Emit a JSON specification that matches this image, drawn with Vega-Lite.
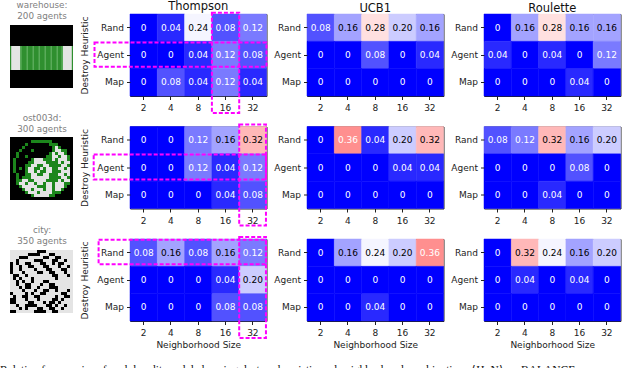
{"$schema":"https://vega.github.io/schema/vega-lite/v6.json","padding":{"left":0,"top":0,"right":5,"bottom":5},"bounds":"flush","columns":4,"align":"each","spacing":{"column":40,"row":30.5},
"config":{"font":"DejaVu Sans","view":{"stroke":"#222222","strokeWidth":1},"axis":{"grid":false,"labelFontSize":9,"titleFontSize":9,"labelColor":"#222222","titleColor":"#222222","domain":false,"tickColor":"#222222","tickSize":3.5,"labelPadding":3,"titleFontWeight":"normal","labelFlush":false},"axisX":{"labelPadding":4,"titlePadding":3},"title":{"fontSize":11.5,"fontWeight":"normal","color":"#111111"}},
"title":{"text":"Relative frequencies of each bandit model choosing destroy heuristic and neighborhood combinations ⟨H, N⟩ on BALANCE","orient":"bottom","anchor":"start","font":"Liberation Serif","fontSize":11.5,"color":"#111111","fontWeight":"normal","offset":15,"dx":-10},
"datasets":{
"heat":[
{"g":"warehouse","m":"Thompson","r":"Rand","n":2,"v":0,"l":"0"},{"g":"warehouse","m":"Thompson","r":"Rand","n":4,"v":0.04,"l":"0.04"},{"g":"warehouse","m":"Thompson","r":"Rand","n":8,"v":0.24,"l":"0.24"},{"g":"warehouse","m":"Thompson","r":"Rand","n":16,"v":0.08,"l":"0.08"},{"g":"warehouse","m":"Thompson","r":"Rand","n":32,"v":0.12,"l":"0.12"},
{"g":"warehouse","m":"Thompson","r":"Agent","n":2,"v":0,"l":"0"},{"g":"warehouse","m":"Thompson","r":"Agent","n":4,"v":0,"l":"0"},{"g":"warehouse","m":"Thompson","r":"Agent","n":8,"v":0.04,"l":"0.04"},{"g":"warehouse","m":"Thompson","r":"Agent","n":16,"v":0.12,"l":"0.12"},{"g":"warehouse","m":"Thompson","r":"Agent","n":32,"v":0.08,"l":"0.08"},
{"g":"warehouse","m":"Thompson","r":"Map","n":2,"v":0,"l":"0"},{"g":"warehouse","m":"Thompson","r":"Map","n":4,"v":0.08,"l":"0.08"},{"g":"warehouse","m":"Thompson","r":"Map","n":8,"v":0.04,"l":"0.04"},{"g":"warehouse","m":"Thompson","r":"Map","n":16,"v":0.12,"l":"0.12"},{"g":"warehouse","m":"Thompson","r":"Map","n":32,"v":0.04,"l":"0.04"},
{"g":"warehouse","m":"UCB1","r":"Rand","n":2,"v":0.08,"l":"0.08"},{"g":"warehouse","m":"UCB1","r":"Rand","n":4,"v":0.16,"l":"0.16"},{"g":"warehouse","m":"UCB1","r":"Rand","n":8,"v":0.28,"l":"0.28"},{"g":"warehouse","m":"UCB1","r":"Rand","n":16,"v":0.2,"l":"0.20"},{"g":"warehouse","m":"UCB1","r":"Rand","n":32,"v":0.16,"l":"0.16"},
{"g":"warehouse","m":"UCB1","r":"Agent","n":2,"v":0,"l":"0"},{"g":"warehouse","m":"UCB1","r":"Agent","n":4,"v":0,"l":"0"},{"g":"warehouse","m":"UCB1","r":"Agent","n":8,"v":0.08,"l":"0.08"},{"g":"warehouse","m":"UCB1","r":"Agent","n":16,"v":0,"l":"0"},{"g":"warehouse","m":"UCB1","r":"Agent","n":32,"v":0.04,"l":"0.04"},
{"g":"warehouse","m":"UCB1","r":"Map","n":2,"v":0,"l":"0"},{"g":"warehouse","m":"UCB1","r":"Map","n":4,"v":0,"l":"0"},{"g":"warehouse","m":"UCB1","r":"Map","n":8,"v":0,"l":"0"},{"g":"warehouse","m":"UCB1","r":"Map","n":16,"v":0,"l":"0"},{"g":"warehouse","m":"UCB1","r":"Map","n":32,"v":0,"l":"0"},
{"g":"warehouse","m":"Roulette","r":"Rand","n":2,"v":0,"l":"0"},{"g":"warehouse","m":"Roulette","r":"Rand","n":4,"v":0.16,"l":"0.16"},{"g":"warehouse","m":"Roulette","r":"Rand","n":8,"v":0.28,"l":"0.28"},{"g":"warehouse","m":"Roulette","r":"Rand","n":16,"v":0.16,"l":"0.16"},{"g":"warehouse","m":"Roulette","r":"Rand","n":32,"v":0.16,"l":"0.16"},
{"g":"warehouse","m":"Roulette","r":"Agent","n":2,"v":0.04,"l":"0.04"},{"g":"warehouse","m":"Roulette","r":"Agent","n":4,"v":0,"l":"0"},{"g":"warehouse","m":"Roulette","r":"Agent","n":8,"v":0.04,"l":"0.04"},{"g":"warehouse","m":"Roulette","r":"Agent","n":16,"v":0,"l":"0"},{"g":"warehouse","m":"Roulette","r":"Agent","n":32,"v":0.12,"l":"0.12"},
{"g":"warehouse","m":"Roulette","r":"Map","n":2,"v":0,"l":"0"},{"g":"warehouse","m":"Roulette","r":"Map","n":4,"v":0,"l":"0"},{"g":"warehouse","m":"Roulette","r":"Map","n":8,"v":0,"l":"0"},{"g":"warehouse","m":"Roulette","r":"Map","n":16,"v":0.04,"l":"0.04"},{"g":"warehouse","m":"Roulette","r":"Map","n":32,"v":0,"l":"0"},
{"g":"ost003d","m":"Thompson","r":"Rand","n":2,"v":0,"l":"0"},{"g":"ost003d","m":"Thompson","r":"Rand","n":4,"v":0,"l":"0"},{"g":"ost003d","m":"Thompson","r":"Rand","n":8,"v":0.12,"l":"0.12"},{"g":"ost003d","m":"Thompson","r":"Rand","n":16,"v":0.16,"l":"0.16"},{"g":"ost003d","m":"Thompson","r":"Rand","n":32,"v":0.32,"l":"0.32"},
{"g":"ost003d","m":"Thompson","r":"Agent","n":2,"v":0,"l":"0"},{"g":"ost003d","m":"Thompson","r":"Agent","n":4,"v":0,"l":"0"},{"g":"ost003d","m":"Thompson","r":"Agent","n":8,"v":0.12,"l":"0.12"},{"g":"ost003d","m":"Thompson","r":"Agent","n":16,"v":0.04,"l":"0.04"},{"g":"ost003d","m":"Thompson","r":"Agent","n":32,"v":0.12,"l":"0.12"},
{"g":"ost003d","m":"Thompson","r":"Map","n":2,"v":0,"l":"0"},{"g":"ost003d","m":"Thompson","r":"Map","n":4,"v":0,"l":"0"},{"g":"ost003d","m":"Thompson","r":"Map","n":8,"v":0,"l":"0"},{"g":"ost003d","m":"Thompson","r":"Map","n":16,"v":0.04,"l":"0.04"},{"g":"ost003d","m":"Thompson","r":"Map","n":32,"v":0.08,"l":"0.08"},
{"g":"ost003d","m":"UCB1","r":"Rand","n":2,"v":0,"l":"0"},{"g":"ost003d","m":"UCB1","r":"Rand","n":4,"v":0.36,"l":"0.36"},{"g":"ost003d","m":"UCB1","r":"Rand","n":8,"v":0.04,"l":"0.04"},{"g":"ost003d","m":"UCB1","r":"Rand","n":16,"v":0.2,"l":"0.20"},{"g":"ost003d","m":"UCB1","r":"Rand","n":32,"v":0.32,"l":"0.32"},
{"g":"ost003d","m":"UCB1","r":"Agent","n":2,"v":0,"l":"0"},{"g":"ost003d","m":"UCB1","r":"Agent","n":4,"v":0,"l":"0"},{"g":"ost003d","m":"UCB1","r":"Agent","n":8,"v":0,"l":"0"},{"g":"ost003d","m":"UCB1","r":"Agent","n":16,"v":0.04,"l":"0.04"},{"g":"ost003d","m":"UCB1","r":"Agent","n":32,"v":0.04,"l":"0.04"},
{"g":"ost003d","m":"UCB1","r":"Map","n":2,"v":0,"l":"0"},{"g":"ost003d","m":"UCB1","r":"Map","n":4,"v":0,"l":"0"},{"g":"ost003d","m":"UCB1","r":"Map","n":8,"v":0,"l":"0"},{"g":"ost003d","m":"UCB1","r":"Map","n":16,"v":0,"l":"0"},{"g":"ost003d","m":"UCB1","r":"Map","n":32,"v":0,"l":"0"},
{"g":"ost003d","m":"Roulette","r":"Rand","n":2,"v":0.08,"l":"0.08"},{"g":"ost003d","m":"Roulette","r":"Rand","n":4,"v":0.12,"l":"0.12"},{"g":"ost003d","m":"Roulette","r":"Rand","n":8,"v":0.32,"l":"0.32"},{"g":"ost003d","m":"Roulette","r":"Rand","n":16,"v":0.16,"l":"0.16"},{"g":"ost003d","m":"Roulette","r":"Rand","n":32,"v":0.2,"l":"0.20"},
{"g":"ost003d","m":"Roulette","r":"Agent","n":2,"v":0,"l":"0"},{"g":"ost003d","m":"Roulette","r":"Agent","n":4,"v":0,"l":"0"},{"g":"ost003d","m":"Roulette","r":"Agent","n":8,"v":0,"l":"0"},{"g":"ost003d","m":"Roulette","r":"Agent","n":16,"v":0.08,"l":"0.08"},{"g":"ost003d","m":"Roulette","r":"Agent","n":32,"v":0,"l":"0"},
{"g":"ost003d","m":"Roulette","r":"Map","n":2,"v":0,"l":"0"},{"g":"ost003d","m":"Roulette","r":"Map","n":4,"v":0,"l":"0"},{"g":"ost003d","m":"Roulette","r":"Map","n":8,"v":0.04,"l":"0.04"},{"g":"ost003d","m":"Roulette","r":"Map","n":16,"v":0,"l":"0"},{"g":"ost003d","m":"Roulette","r":"Map","n":32,"v":0,"l":"0"},
{"g":"city","m":"Thompson","r":"Rand","n":2,"v":0.08,"l":"0.08"},{"g":"city","m":"Thompson","r":"Rand","n":4,"v":0.16,"l":"0.16"},{"g":"city","m":"Thompson","r":"Rand","n":8,"v":0.08,"l":"0.08"},{"g":"city","m":"Thompson","r":"Rand","n":16,"v":0.16,"l":"0.16"},{"g":"city","m":"Thompson","r":"Rand","n":32,"v":0.12,"l":"0.12"},
{"g":"city","m":"Thompson","r":"Agent","n":2,"v":0,"l":"0"},{"g":"city","m":"Thompson","r":"Agent","n":4,"v":0,"l":"0"},{"g":"city","m":"Thompson","r":"Agent","n":8,"v":0,"l":"0"},{"g":"city","m":"Thompson","r":"Agent","n":16,"v":0.04,"l":"0.04"},{"g":"city","m":"Thompson","r":"Agent","n":32,"v":0.2,"l":"0.20"},
{"g":"city","m":"Thompson","r":"Map","n":2,"v":0,"l":"0"},{"g":"city","m":"Thompson","r":"Map","n":4,"v":0,"l":"0"},{"g":"city","m":"Thompson","r":"Map","n":8,"v":0,"l":"0"},{"g":"city","m":"Thompson","r":"Map","n":16,"v":0.08,"l":"0.08"},{"g":"city","m":"Thompson","r":"Map","n":32,"v":0.08,"l":"0.08"},
{"g":"city","m":"UCB1","r":"Rand","n":2,"v":0,"l":"0"},{"g":"city","m":"UCB1","r":"Rand","n":4,"v":0.16,"l":"0.16"},{"g":"city","m":"UCB1","r":"Rand","n":8,"v":0.24,"l":"0.24"},{"g":"city","m":"UCB1","r":"Rand","n":16,"v":0.2,"l":"0.20"},{"g":"city","m":"UCB1","r":"Rand","n":32,"v":0.36,"l":"0.36"},
{"g":"city","m":"UCB1","r":"Agent","n":2,"v":0,"l":"0"},{"g":"city","m":"UCB1","r":"Agent","n":4,"v":0,"l":"0"},{"g":"city","m":"UCB1","r":"Agent","n":8,"v":0,"l":"0"},{"g":"city","m":"UCB1","r":"Agent","n":16,"v":0,"l":"0"},{"g":"city","m":"UCB1","r":"Agent","n":32,"v":0,"l":"0"},
{"g":"city","m":"UCB1","r":"Map","n":2,"v":0,"l":"0"},{"g":"city","m":"UCB1","r":"Map","n":4,"v":0,"l":"0"},{"g":"city","m":"UCB1","r":"Map","n":8,"v":0.04,"l":"0.04"},{"g":"city","m":"UCB1","r":"Map","n":16,"v":0,"l":"0"},{"g":"city","m":"UCB1","r":"Map","n":32,"v":0,"l":"0"},
{"g":"city","m":"Roulette","r":"Rand","n":2,"v":0,"l":"0"},{"g":"city","m":"Roulette","r":"Rand","n":4,"v":0.32,"l":"0.32"},{"g":"city","m":"Roulette","r":"Rand","n":8,"v":0.24,"l":"0.24"},{"g":"city","m":"Roulette","r":"Rand","n":16,"v":0.16,"l":"0.16"},{"g":"city","m":"Roulette","r":"Rand","n":32,"v":0.2,"l":"0.20"},
{"g":"city","m":"Roulette","r":"Agent","n":2,"v":0,"l":"0"},{"g":"city","m":"Roulette","r":"Agent","n":4,"v":0.04,"l":"0.04"},{"g":"city","m":"Roulette","r":"Agent","n":8,"v":0,"l":"0"},{"g":"city","m":"Roulette","r":"Agent","n":16,"v":0.04,"l":"0.04"},{"g":"city","m":"Roulette","r":"Agent","n":32,"v":0,"l":"0"},
{"g":"city","m":"Roulette","r":"Map","n":2,"v":0,"l":"0"},{"g":"city","m":"Roulette","r":"Map","n":4,"v":0,"l":"0"},{"g":"city","m":"Roulette","r":"Map","n":8,"v":0,"l":"0"},{"g":"city","m":"Roulette","r":"Map","n":16,"v":0,"l":"0"},{"g":"city","m":"Roulette","r":"Map","n":32,"v":0,"l":"0"}
],
"marks":[
{"g":"warehouse","x0":3,"x1":4,"y0":-0.05,"y1":3.62},{"g":"warehouse","x0":-1.3,"x1":5,"y0":1.04,"y1":1.93},
{"g":"ost003d","x0":4,"x1":4.98,"y0":-0.07,"y1":3.62},{"g":"ost003d","x0":-1.33,"x1":4.98,"y0":1.02,"y1":1.94},
{"g":"city","x0":4,"x1":4.98,"y0":-0.07,"y1":3.62},{"g":"city","x0":-1.15,"x1":4.98,"y0":0.03,"y1":0.92}
],
"thumbs":[
{"g":"warehouse","r":0,"a":0,"b":21,"k":"k"},{"g":"warehouse","r":1,"a":0,"b":21,"k":"k"},{"g":"warehouse","r":2,"a":0,"b":21,"k":"k"},{"g":"warehouse","r":3,"a":0,"b":21,"k":"k"},{"g":"warehouse","r":4,"a":0,"b":21,"k":"k"},{"g":"warehouse","r":5,"a":0,"b":21,"k":"k"},{"g":"warehouse","r":6,"a":0,"b":21,"k":"k"},
{"g":"warehouse","r":15,"a":0,"b":21,"k":"k"},{"g":"warehouse","r":16,"a":0,"b":21,"k":"k"},{"g":"warehouse","r":17,"a":0,"b":21,"k":"k"},{"g":"warehouse","r":18,"a":0,"b":21,"k":"k"},{"g":"warehouse","r":19,"a":0,"b":21,"k":"k"},{"g":"warehouse","r":20,"a":0,"b":21,"k":"k"},
{"g":"warehouse","r":7,"a":0,"b":21,"k":"g"},{"g":"warehouse","r":8,"a":0,"b":21,"k":"g"},{"g":"warehouse","r":9,"a":0,"b":21,"k":"g"},{"g":"warehouse","r":10,"a":0,"b":21,"k":"g"},{"g":"warehouse","r":11,"a":0,"b":21,"k":"g"},{"g":"warehouse","r":12,"a":0,"b":21,"k":"g"},{"g":"warehouse","r":13,"a":0,"b":21,"k":"g"},{"g":"warehouse","r":14,"a":0,"b":21,"k":"g"},
{"g":"warehouse","r":7,"a":0.4,"b":3.4,"k":"w"},{"g":"warehouse","r":8,"a":0.4,"b":3.4,"k":"w"},{"g":"warehouse","r":9,"a":0.4,"b":3.4,"k":"w"},{"g":"warehouse","r":10,"a":0.4,"b":3.4,"k":"w"},{"g":"warehouse","r":11,"a":0.4,"b":3.4,"k":"w"},{"g":"warehouse","r":12,"a":0.4,"b":3.4,"k":"w"},{"g":"warehouse","r":13,"a":0.4,"b":3.4,"k":"w"},{"g":"warehouse","r":14,"a":0.4,"b":3.4,"k":"w"},
{"g":"warehouse","r":7,"a":17.6,"b":20.6,"k":"w"},{"g":"warehouse","r":8,"a":17.6,"b":20.6,"k":"w"},{"g":"warehouse","r":9,"a":17.6,"b":20.6,"k":"w"},{"g":"warehouse","r":10,"a":17.6,"b":20.6,"k":"w"},{"g":"warehouse","r":11,"a":17.6,"b":20.6,"k":"w"},{"g":"warehouse","r":12,"a":17.6,"b":20.6,"k":"w"},{"g":"warehouse","r":13,"a":17.6,"b":20.6,"k":"w"},{"g":"warehouse","r":14,"a":17.6,"b":20.6,"k":"w"},
{"g":"warehouse","r":7,"a":3.4,"b":3.9,"k":"l"},{"g":"warehouse","r":8,"a":3.4,"b":3.9,"k":"l"},{"g":"warehouse","r":9,"a":3.4,"b":3.9,"k":"l"},{"g":"warehouse","r":10,"a":3.4,"b":3.9,"k":"l"},{"g":"warehouse","r":11,"a":3.4,"b":3.9,"k":"l"},{"g":"warehouse","r":12,"a":3.4,"b":3.9,"k":"l"},{"g":"warehouse","r":13,"a":3.4,"b":3.9,"k":"l"},{"g":"warehouse","r":14,"a":3.4,"b":3.9,"k":"l"},
{"g":"warehouse","r":7,"a":5.5,"b":6,"k":"l"},{"g":"warehouse","r":8,"a":5.5,"b":6,"k":"l"},{"g":"warehouse","r":9,"a":5.5,"b":6,"k":"l"},{"g":"warehouse","r":10,"a":5.5,"b":6,"k":"l"},{"g":"warehouse","r":11,"a":5.5,"b":6,"k":"l"},{"g":"warehouse","r":12,"a":5.5,"b":6,"k":"l"},{"g":"warehouse","r":13,"a":5.5,"b":6,"k":"l"},{"g":"warehouse","r":14,"a":5.5,"b":6,"k":"l"},
{"g":"warehouse","r":7,"a":7.5,"b":8,"k":"l"},{"g":"warehouse","r":8,"a":7.5,"b":8,"k":"l"},{"g":"warehouse","r":9,"a":7.5,"b":8,"k":"l"},{"g":"warehouse","r":10,"a":7.5,"b":8,"k":"l"},{"g":"warehouse","r":11,"a":7.5,"b":8,"k":"l"},{"g":"warehouse","r":12,"a":7.5,"b":8,"k":"l"},{"g":"warehouse","r":13,"a":7.5,"b":8,"k":"l"},{"g":"warehouse","r":14,"a":7.5,"b":8,"k":"l"},
{"g":"warehouse","r":7,"a":9.5,"b":10,"k":"l"},{"g":"warehouse","r":8,"a":9.5,"b":10,"k":"l"},{"g":"warehouse","r":9,"a":9.5,"b":10,"k":"l"},{"g":"warehouse","r":10,"a":9.5,"b":10,"k":"l"},{"g":"warehouse","r":11,"a":9.5,"b":10,"k":"l"},{"g":"warehouse","r":12,"a":9.5,"b":10,"k":"l"},{"g":"warehouse","r":13,"a":9.5,"b":10,"k":"l"},{"g":"warehouse","r":14,"a":9.5,"b":10,"k":"l"},
{"g":"warehouse","r":7,"a":11.5,"b":12,"k":"l"},{"g":"warehouse","r":8,"a":11.5,"b":12,"k":"l"},{"g":"warehouse","r":9,"a":11.5,"b":12,"k":"l"},{"g":"warehouse","r":10,"a":11.5,"b":12,"k":"l"},{"g":"warehouse","r":11,"a":11.5,"b":12,"k":"l"},{"g":"warehouse","r":12,"a":11.5,"b":12,"k":"l"},{"g":"warehouse","r":13,"a":11.5,"b":12,"k":"l"},{"g":"warehouse","r":14,"a":11.5,"b":12,"k":"l"},
{"g":"warehouse","r":7,"a":13.5,"b":14,"k":"l"},{"g":"warehouse","r":8,"a":13.5,"b":14,"k":"l"},{"g":"warehouse","r":9,"a":13.5,"b":14,"k":"l"},{"g":"warehouse","r":10,"a":13.5,"b":14,"k":"l"},{"g":"warehouse","r":11,"a":13.5,"b":14,"k":"l"},{"g":"warehouse","r":12,"a":13.5,"b":14,"k":"l"},{"g":"warehouse","r":13,"a":13.5,"b":14,"k":"l"},{"g":"warehouse","r":14,"a":13.5,"b":14,"k":"l"},
{"g":"warehouse","r":7,"a":15.5,"b":16,"k":"l"},{"g":"warehouse","r":8,"a":15.5,"b":16,"k":"l"},{"g":"warehouse","r":9,"a":15.5,"b":16,"k":"l"},{"g":"warehouse","r":10,"a":15.5,"b":16,"k":"l"},{"g":"warehouse","r":11,"a":15.5,"b":16,"k":"l"},{"g":"warehouse","r":12,"a":15.5,"b":16,"k":"l"},{"g":"warehouse","r":13,"a":15.5,"b":16,"k":"l"},{"g":"warehouse","r":14,"a":15.5,"b":16,"k":"l"},
{"g":"warehouse","r":7,"a":17.1,"b":17.6,"k":"l"},{"g":"warehouse","r":8,"a":17.1,"b":17.6,"k":"l"},{"g":"warehouse","r":9,"a":17.1,"b":17.6,"k":"l"},{"g":"warehouse","r":10,"a":17.1,"b":17.6,"k":"l"},{"g":"warehouse","r":11,"a":17.1,"b":17.6,"k":"l"},{"g":"warehouse","r":12,"a":17.1,"b":17.6,"k":"l"},{"g":"warehouse","r":13,"a":17.1,"b":17.6,"k":"l"},{"g":"warehouse","r":14,"a":17.1,"b":17.6,"k":"l"},
{"g":"ost003d","r":0,"a":0,"b":21,"k":"k"},{"g":"ost003d","r":1,"a":0,"b":21,"k":"k"},{"g":"ost003d","r":2,"a":0,"b":21,"k":"k"},{"g":"ost003d","r":3,"a":0,"b":21,"k":"k"},{"g":"ost003d","r":4,"a":0,"b":21,"k":"k"},{"g":"ost003d","r":5,"a":0,"b":21,"k":"k"},{"g":"ost003d","r":6,"a":0,"b":21,"k":"k"},{"g":"ost003d","r":7,"a":0,"b":21,"k":"k"},{"g":"ost003d","r":8,"a":0,"b":21,"k":"k"},{"g":"ost003d","r":9,"a":0,"b":21,"k":"k"},{"g":"ost003d","r":10,"a":0,"b":21,"k":"k"},{"g":"ost003d","r":11,"a":0,"b":21,"k":"k"},{"g":"ost003d","r":12,"a":0,"b":21,"k":"k"},{"g":"ost003d","r":13,"a":0,"b":21,"k":"k"},{"g":"ost003d","r":14,"a":0,"b":21,"k":"k"},{"g":"ost003d","r":15,"a":0,"b":21,"k":"k"},{"g":"ost003d","r":16,"a":0,"b":21,"k":"k"},{"g":"ost003d","r":17,"a":0,"b":21,"k":"k"},{"g":"ost003d","r":18,"a":0,"b":21,"k":"k"},{"g":"ost003d","r":19,"a":0,"b":21,"k":"k"},{"g":"ost003d","r":20,"a":0,"b":21,"k":"k"},
{"g":"ost003d","r":1,"a":7,"b":14,"k":"g"},{"g":"ost003d","r":2,"a":5,"b":6,"k":"g"},{"g":"ost003d","r":2,"a":13,"b":16,"k":"g"},{"g":"ost003d","r":3,"a":4,"b":5,"k":"g"},{"g":"ost003d","r":3,"a":14,"b":17,"k":"g"},{"g":"ost003d","r":4,"a":3,"b":4,"k":"g"},{"g":"ost003d","r":4,"a":7,"b":8,"k":"g"},{"g":"ost003d","r":4,"a":14,"b":19,"k":"g"},{"g":"ost003d","r":5,"a":2,"b":3,"k":"g"},{"g":"ost003d","r":5,"a":13,"b":19,"k":"g"},{"g":"ost003d","r":6,"a":2,"b":3,"k":"g"},{"g":"ost003d","r":6,"a":5,"b":6,"k":"g"},{"g":"ost003d","r":6,"a":12,"b":20,"k":"g"},{"g":"ost003d","r":7,"a":1,"b":2,"k":"g"},{"g":"ost003d","r":7,"a":7,"b":20,"k":"g"},{"g":"ost003d","r":8,"a":1,"b":2,"k":"g"},{"g":"ost003d","r":8,"a":6,"b":20,"k":"g"},{"g":"ost003d","r":9,"a":1,"b":2,"k":"g"},{"g":"ost003d","r":9,"a":5,"b":20,"k":"g"},{"g":"ost003d","r":10,"a":1,"b":2,"k":"g"},{"g":"ost003d","r":10,"a":3,"b":4,"k":"g"},{"g":"ost003d","r":10,"a":5,"b":20,"k":"g"},{"g":"ost003d","r":11,"a":1,"b":2,"k":"g"},{"g":"ost003d","r":11,"a":5,"b":20,"k":"g"},{"g":"ost003d","r":12,"a":2,"b":3,"k":"g"},{"g":"ost003d","r":12,"a":5,"b":20,"k":"g"},{"g":"ost003d","r":13,"a":2,"b":3,"k":"g"},{"g":"ost003d","r":13,"a":4,"b":20,"k":"g"},{"g":"ost003d","r":14,"a":2,"b":20,"k":"g"},{"g":"ost003d","r":15,"a":2,"b":20,"k":"g"},{"g":"ost003d","r":16,"a":3,"b":19,"k":"g"},{"g":"ost003d","r":17,"a":4,"b":18,"k":"g"},{"g":"ost003d","r":18,"a":5,"b":17,"k":"g"},{"g":"ost003d","r":19,"a":7,"b":15,"k":"g"},
{"g":"ost003d","r":3,"a":15,"b":16,"k":"w"},{"g":"ost003d","r":4,"a":15,"b":17,"k":"w"},{"g":"ost003d","r":5,"a":14,"b":15,"k":"w"},{"g":"ost003d","r":5,"a":16,"b":18,"k":"w"},{"g":"ost003d","r":6,"a":14,"b":16,"k":"w"},{"g":"ost003d","r":6,"a":17,"b":19,"k":"w"},{"g":"ost003d","r":7,"a":8,"b":11,"k":"w"},{"g":"ost003d","r":7,"a":14,"b":15,"k":"w"},{"g":"ost003d","r":7,"a":16,"b":19,"k":"w"},{"g":"ost003d","r":8,"a":8,"b":12,"k":"w"},{"g":"ost003d","r":8,"a":16,"b":17,"k":"w"},{"g":"ost003d","r":8,"a":18,"b":20,"k":"w"},{"g":"ost003d","r":9,"a":7,"b":9,"k":"w"},{"g":"ost003d","r":9,"a":11,"b":13,"k":"w"},{"g":"ost003d","r":9,"a":17,"b":19,"k":"w"},{"g":"ost003d","r":10,"a":6,"b":8,"k":"w"},{"g":"ost003d","r":10,"a":10,"b":11,"k":"w"},{"g":"ost003d","r":10,"a":12,"b":14,"k":"w"},{"g":"ost003d","r":10,"a":16,"b":18,"k":"w"},{"g":"ost003d","r":10,"a":19,"b":20,"k":"w"},{"g":"ost003d","r":11,"a":6,"b":8,"k":"w"},{"g":"ost003d","r":11,"a":9,"b":10,"k":"w"},{"g":"ost003d","r":11,"a":12,"b":14,"k":"w"},{"g":"ost003d","r":11,"a":17,"b":20,"k":"w"},{"g":"ost003d","r":12,"a":7,"b":9,"k":"w"},{"g":"ost003d","r":12,"a":11,"b":13,"k":"w"},{"g":"ost003d","r":12,"a":16,"b":18,"k":"w"},{"g":"ost003d","r":12,"a":19,"b":20,"k":"w"},{"g":"ost003d","r":13,"a":7,"b":13,"k":"w"},{"g":"ost003d","r":13,"a":17,"b":19,"k":"w"},{"g":"ost003d","r":14,"a":4,"b":6,"k":"w"},{"g":"ost003d","r":14,"a":8,"b":12,"k":"w"},{"g":"ost003d","r":14,"a":16,"b":17,"k":"w"},{"g":"ost003d","r":14,"a":18,"b":20,"k":"w"},{"g":"ost003d","r":15,"a":3,"b":5,"k":"w"},{"g":"ost003d","r":15,"a":6,"b":8,"k":"w"},{"g":"ost003d","r":15,"a":9,"b":11,"k":"w"},{"g":"ost003d","r":15,"a":12,"b":14,"k":"w"},{"g":"ost003d","r":15,"a":15,"b":18,"k":"w"},{"g":"ost003d","r":16,"a":4,"b":9,"k":"w"},{"g":"ost003d","r":16,"a":12,"b":14,"k":"w"},{"g":"ost003d","r":16,"a":15,"b":18,"k":"w"},{"g":"ost003d","r":17,"a":5,"b":7,"k":"w"},{"g":"ost003d","r":17,"a":8,"b":11,"k":"w"},{"g":"ost003d","r":17,"a":12,"b":14,"k":"w"},{"g":"ost003d","r":17,"a":15,"b":17,"k":"w"},{"g":"ost003d","r":18,"a":6,"b":9,"k":"w"},{"g":"ost003d","r":18,"a":10,"b":14,"k":"w"},{"g":"ost003d","r":19,"a":8,"b":13,"k":"w"},
{"g":"city","r":0,"a":0,"b":21,"k":"w"},{"g":"city","r":1,"a":0,"b":21,"k":"w"},{"g":"city","r":2,"a":0,"b":21,"k":"w"},{"g":"city","r":3,"a":0,"b":21,"k":"w"},{"g":"city","r":4,"a":0,"b":21,"k":"w"},{"g":"city","r":5,"a":0,"b":21,"k":"w"},{"g":"city","r":6,"a":0,"b":21,"k":"w"},{"g":"city","r":7,"a":0,"b":21,"k":"w"},{"g":"city","r":8,"a":0,"b":21,"k":"w"},{"g":"city","r":9,"a":0,"b":21,"k":"w"},{"g":"city","r":10,"a":0,"b":21,"k":"w"},{"g":"city","r":11,"a":0,"b":21,"k":"w"},{"g":"city","r":12,"a":0,"b":21,"k":"w"},{"g":"city","r":13,"a":0,"b":21,"k":"w"},{"g":"city","r":14,"a":0,"b":21,"k":"w"},{"g":"city","r":15,"a":0,"b":21,"k":"w"},{"g":"city","r":16,"a":0,"b":21,"k":"w"},{"g":"city","r":17,"a":0,"b":21,"k":"w"},{"g":"city","r":18,"a":0,"b":21,"k":"w"},{"g":"city","r":19,"a":0,"b":21,"k":"w"},{"g":"city","r":20,"a":0,"b":21,"k":"w"},
{"g":"city","r":0,"a":9,"b":12,"k":"k"},{"g":"city","r":1,"a":6,"b":10,"k":"k"},{"g":"city","r":1,"a":13,"b":15,"k":"k"},{"g":"city","r":2,"a":3,"b":6,"k":"k"},{"g":"city","r":2,"a":11,"b":13,"k":"k"},{"g":"city","r":2,"a":15,"b":17,"k":"k"},{"g":"city","r":3,"a":2,"b":3,"k":"k"},{"g":"city","r":3,"a":8,"b":11,"k":"k"},{"g":"city","r":3,"a":14,"b":16,"k":"k"},{"g":"city","r":3,"a":18,"b":19,"k":"k"},{"g":"city","r":4,"a":0,"b":1,"k":"k"},{"g":"city","r":4,"a":2,"b":3,"k":"k"},{"g":"city","r":4,"a":5,"b":7,"k":"k"},{"g":"city","r":4,"a":10,"b":12,"k":"k"},{"g":"city","r":4,"a":14,"b":15,"k":"k"},{"g":"city","r":4,"a":16,"b":18,"k":"k"},{"g":"city","r":5,"a":0,"b":1,"k":"k"},{"g":"city","r":5,"a":3,"b":4,"k":"k"},{"g":"city","r":5,"a":6,"b":8,"k":"k"},{"g":"city","r":5,"a":11,"b":13,"k":"k"},{"g":"city","r":5,"a":16,"b":17,"k":"k"},{"g":"city","r":5,"a":19,"b":20,"k":"k"},{"g":"city","r":6,"a":0,"b":1,"k":"k"},{"g":"city","r":6,"a":3,"b":4,"k":"k"},{"g":"city","r":6,"a":8,"b":9,"k":"k"},{"g":"city","r":6,"a":12,"b":14,"k":"k"},{"g":"city","r":6,"a":17,"b":19,"k":"k"},{"g":"city","r":7,"a":0,"b":1,"k":"k"},{"g":"city","r":7,"a":4,"b":5,"k":"k"},{"g":"city","r":7,"a":9,"b":11,"k":"k"},{"g":"city","r":7,"a":13,"b":15,"k":"k"},{"g":"city","r":7,"a":18,"b":19,"k":"k"},{"g":"city","r":8,"a":1,"b":3,"k":"k"},{"g":"city","r":8,"a":5,"b":6,"k":"k"},{"g":"city","r":8,"a":14,"b":16,"k":"k"},{"g":"city","r":8,"a":19,"b":20,"k":"k"},{"g":"city","r":9,"a":1,"b":2,"k":"k"},{"g":"city","r":9,"a":3,"b":4,"k":"k"},{"g":"city","r":9,"a":7,"b":8,"k":"k"},{"g":"city","r":9,"a":15,"b":16,"k":"k"},{"g":"city","r":10,"a":2,"b":3,"k":"k"},{"g":"city","r":10,"a":4,"b":5,"k":"k"},{"g":"city","r":10,"a":7,"b":8,"k":"k"},{"g":"city","r":10,"a":11,"b":13,"k":"k"},{"g":"city","r":11,"a":2,"b":3,"k":"k"},{"g":"city","r":11,"a":5,"b":7,"k":"k"},{"g":"city","r":11,"a":10,"b":11,"k":"k"},{"g":"city","r":11,"a":13,"b":15,"k":"k"},{"g":"city","r":12,"a":3,"b":4,"k":"k"},{"g":"city","r":12,"a":5,"b":7,"k":"k"},{"g":"city","r":12,"a":9,"b":10,"k":"k"},{"g":"city","r":12,"a":13,"b":16,"k":"k"},{"g":"city","r":13,"a":4,"b":5,"k":"k"},{"g":"city","r":13,"a":8,"b":9,"k":"k"},{"g":"city","r":13,"a":11,"b":13,"k":"k"},{"g":"city","r":13,"a":15,"b":16,"k":"k"},{"g":"city","r":13,"a":19,"b":20,"k":"k"},{"g":"city","r":14,"a":0,"b":1,"k":"k"},{"g":"city","r":14,"a":5,"b":6,"k":"k"},{"g":"city","r":14,"a":7,"b":8,"k":"k"},{"g":"city","r":14,"a":10,"b":12,"k":"k"},{"g":"city","r":14,"a":17,"b":19,"k":"k"},{"g":"city","r":15,"a":1,"b":2,"k":"k"},{"g":"city","r":15,"a":4,"b":6,"k":"k"},{"g":"city","r":15,"a":8,"b":10,"k":"k"},{"g":"city","r":15,"a":15,"b":16,"k":"k"},{"g":"city","r":15,"a":18,"b":20,"k":"k"},{"g":"city","r":16,"a":0,"b":2,"k":"k"},{"g":"city","r":16,"a":5,"b":6,"k":"k"},{"g":"city","r":16,"a":9,"b":10,"k":"k"},{"g":"city","r":16,"a":14,"b":16,"k":"k"},{"g":"city","r":16,"a":17,"b":18,"k":"k"},{"g":"city","r":17,"a":0,"b":2,"k":"k"},{"g":"city","r":17,"a":6,"b":8,"k":"k"},{"g":"city","r":17,"a":11,"b":12,"k":"k"},{"g":"city","r":17,"a":13,"b":15,"k":"k"},{"g":"city","r":17,"a":16,"b":17,"k":"k"},{"g":"city","r":18,"a":2,"b":3,"k":"k"},{"g":"city","r":18,"a":5,"b":9,"k":"k"},{"g":"city","r":18,"a":12,"b":14,"k":"k"},{"g":"city","r":18,"a":15,"b":16,"k":"k"},{"g":"city","r":18,"a":18,"b":19,"k":"k"},{"g":"city","r":19,"a":3,"b":4,"k":"k"},{"g":"city","r":19,"a":5,"b":6,"k":"k"},{"g":"city","r":19,"a":9,"b":11,"k":"k"},{"g":"city","r":19,"a":13,"b":15,"k":"k"},{"g":"city","r":19,"a":17,"b":18,"k":"k"},{"g":"city","r":20,"a":0,"b":2,"k":"k"},{"g":"city","r":20,"a":8,"b":12,"k":"k"},{"g":"city","r":20,"a":14,"b":16,"k":"k"}
]},
"concat":[
{"width":80,"height":82,"view":{"stroke":null},"title":{"text":["warehouse:","200 agents"],"anchor":"start","align":"center","dx":32,"offset":-7,"fontSize":8.8,"color":"#808080","lineHeight":11,"frame":"group"},"data":{"name":"thumbs"},"transform":[{"filter":"datum.g=='warehouse'"}],"mark":{"type":"rect"},"encoding":{"x":{"field":"a","type":"quantitative","scale":{"domain":[0,21],"range":[0,63],"nice":false,"zero":false},"axis":null},"x2":{"field":"b"},"y":{"field":"r","type":"ordinal","sort":null,"scale":{"domain":[0,1,2,3,4,5,6,7,8,9,10,11,12,13,14,15,16,17,18,19,20],"range":[11,74],"padding":0},"axis":null},"color":{"field":"k","type":"nominal","legend":null,"scale":{"domain":["k","g","l","w"],"range":["#000000","#2f8f2f","#5aab5a","#e4e4e4"]}}}},
{"width":136.5,"height":82,"title":{"text":"Thompson","offset":-1},"resolve":{"scale":{"x":"independent","y":"independent"}},"layer":[{"data":{"name":"heat"},"transform":[{"filter":"datum.g=='warehouse'&&datum.m=='Thompson'"}],"layer":[{"mark":{"type":"rect","strokeWidth":0.5},"encoding":{"x":{"field":"n","type":"ordinal","sort":[2,4,8,16,32],"scale":{"padding":0},"title":null,"axis":{"labelAngle":0}},"y":{"field":"r","type":"nominal","sort":["Rand","Agent","Map"],"scale":{"padding":0},"axis":{"title":"Destroy Heuristic","titlePadding":7}},"color":{"field":"v","type":"quantitative","legend":null,"scale":{"domain":[0,0.25,0.5],"range":["#0000ff","#ffffff","#ff0000"],"interpolate":"rgb"}},"stroke":{"field":"v","type":"quantitative","legend":null,"scale":{"domain":[0,0.25,0.5],"range":["#0000ff","#ffffff","#ff0000"],"interpolate":"rgb"}}}},{"mark":{"type":"text","fontSize":9},"encoding":{"x":{"field":"n","type":"ordinal","sort":[2,4,8,16,32]},"y":{"field":"r","type":"nominal","sort":["Rand","Agent","Map"]},"text":{"field":"l"},"color":{"condition":{"test":"datum.v<0.14||datum.v>0.34","value":"white"},"value":"black"}}}]},{"data":{"name":"marks"},"transform":[{"filter":"datum.g=='warehouse'"}],"mark":{"type":"rect","fill":"transparent","stroke":"#ff00ff","strokeWidth":2,"strokeDash":[4,2],"clip":false},"encoding":{"x":{"field":"x0","type":"quantitative","scale":{"domain":[0,5],"nice":false,"zero":false},"axis":null},"x2":{"field":"x1"},"y":{"field":"y0","type":"quantitative","scale":{"domain":[0,3],"reverse":true,"nice":false,"zero":false},"axis":null},"y2":{"field":"y1"}}}]},
{"width":136.5,"height":82,"title":{"text":"UCB1","offset":-1},"data":{"name":"heat"},"transform":[{"filter":"datum.g=='warehouse'&&datum.m=='UCB1'"}],"layer":[{"mark":{"type":"rect","strokeWidth":0.5},"encoding":{"x":{"field":"n","type":"ordinal","sort":[2,4,8,16,32],"scale":{"padding":0},"title":null,"axis":{"labelAngle":0}},"y":{"field":"r","type":"nominal","sort":["Rand","Agent","Map"],"scale":{"padding":0},"title":null},"color":{"field":"v","type":"quantitative","legend":null,"scale":{"domain":[0,0.25,0.5],"range":["#0000ff","#ffffff","#ff0000"],"interpolate":"rgb"}},"stroke":{"field":"v","type":"quantitative","legend":null,"scale":{"domain":[0,0.25,0.5],"range":["#0000ff","#ffffff","#ff0000"],"interpolate":"rgb"}}}},{"mark":{"type":"text","fontSize":9},"encoding":{"x":{"field":"n","type":"ordinal","sort":[2,4,8,16,32]},"y":{"field":"r","type":"nominal","sort":["Rand","Agent","Map"]},"text":{"field":"l"},"color":{"condition":{"test":"datum.v<0.14||datum.v>0.34","value":"white"},"value":"black"}}}]},
{"width":136.5,"height":82,"title":{"text":"Roulette","offset":-1},"data":{"name":"heat"},"transform":[{"filter":"datum.g=='warehouse'&&datum.m=='Roulette'"}],"layer":[{"mark":{"type":"rect","strokeWidth":0.5},"encoding":{"x":{"field":"n","type":"ordinal","sort":[2,4,8,16,32],"scale":{"padding":0},"title":null,"axis":{"labelAngle":0}},"y":{"field":"r","type":"nominal","sort":["Rand","Agent","Map"],"scale":{"padding":0},"title":null},"color":{"field":"v","type":"quantitative","legend":null,"scale":{"domain":[0,0.25,0.5],"range":["#0000ff","#ffffff","#ff0000"],"interpolate":"rgb"}},"stroke":{"field":"v","type":"quantitative","legend":null,"scale":{"domain":[0,0.25,0.5],"range":["#0000ff","#ffffff","#ff0000"],"interpolate":"rgb"}}}},{"mark":{"type":"text","fontSize":9},"encoding":{"x":{"field":"n","type":"ordinal","sort":[2,4,8,16,32]},"y":{"field":"r","type":"nominal","sort":["Rand","Agent","Map"]},"text":{"field":"l"},"color":{"condition":{"test":"datum.v<0.14||datum.v>0.34","value":"white"},"value":"black"}}}]},
{"width":80,"height":82,"view":{"stroke":null},"title":{"text":["ost003d:","300 agents"],"anchor":"start","align":"center","dx":32,"offset":-7,"fontSize":8.8,"color":"#808080","lineHeight":11,"frame":"group"},"data":{"name":"thumbs"},"transform":[{"filter":"datum.g=='ost003d'"}],"mark":{"type":"rect"},"encoding":{"x":{"field":"a","type":"quantitative","scale":{"domain":[0,21],"range":[0,63],"nice":false,"zero":false},"axis":null},"x2":{"field":"b"},"y":{"field":"r","type":"ordinal","sort":null,"scale":{"domain":[0,1,2,3,4,5,6,7,8,9,10,11,12,13,14,15,16,17,18,19,20],"range":[10.5,73.5],"padding":0},"axis":null},"color":{"field":"k","type":"nominal","legend":null,"scale":{"domain":["k","g","l","w"],"range":["#000000","#1c861c","#5aab5a","#e4e4e4"]}}}},
{"width":136.5,"height":82,"resolve":{"scale":{"x":"independent","y":"independent"}},"layer":[{"data":{"name":"heat"},"transform":[{"filter":"datum.g=='ost003d'&&datum.m=='Thompson'"}],"layer":[{"mark":{"type":"rect","strokeWidth":0.5},"encoding":{"x":{"field":"n","type":"ordinal","sort":[2,4,8,16,32],"scale":{"padding":0},"title":null,"axis":{"labelAngle":0}},"y":{"field":"r","type":"nominal","sort":["Rand","Agent","Map"],"scale":{"padding":0},"axis":{"title":"Destroy Heuristic","titlePadding":7}},"color":{"field":"v","type":"quantitative","legend":null,"scale":{"domain":[0,0.25,0.5],"range":["#0000ff","#ffffff","#ff0000"],"interpolate":"rgb"}},"stroke":{"field":"v","type":"quantitative","legend":null,"scale":{"domain":[0,0.25,0.5],"range":["#0000ff","#ffffff","#ff0000"],"interpolate":"rgb"}}}},{"mark":{"type":"text","fontSize":9},"encoding":{"x":{"field":"n","type":"ordinal","sort":[2,4,8,16,32]},"y":{"field":"r","type":"nominal","sort":["Rand","Agent","Map"]},"text":{"field":"l"},"color":{"condition":{"test":"datum.v<0.14||datum.v>0.34","value":"white"},"value":"black"}}}]},{"data":{"name":"marks"},"transform":[{"filter":"datum.g=='ost003d'"}],"mark":{"type":"rect","fill":"transparent","stroke":"#ff00ff","strokeWidth":2,"strokeDash":[4,2],"clip":false},"encoding":{"x":{"field":"x0","type":"quantitative","scale":{"domain":[0,5],"nice":false,"zero":false},"axis":null},"x2":{"field":"x1"},"y":{"field":"y0","type":"quantitative","scale":{"domain":[0,3],"reverse":true,"nice":false,"zero":false},"axis":null},"y2":{"field":"y1"}}}]},
{"width":136.5,"height":82,"data":{"name":"heat"},"transform":[{"filter":"datum.g=='ost003d'&&datum.m=='UCB1'"}],"layer":[{"mark":{"type":"rect","strokeWidth":0.5},"encoding":{"x":{"field":"n","type":"ordinal","sort":[2,4,8,16,32],"scale":{"padding":0},"title":null,"axis":{"labelAngle":0}},"y":{"field":"r","type":"nominal","sort":["Rand","Agent","Map"],"scale":{"padding":0},"title":null},"color":{"field":"v","type":"quantitative","legend":null,"scale":{"domain":[0,0.25,0.5],"range":["#0000ff","#ffffff","#ff0000"],"interpolate":"rgb"}},"stroke":{"field":"v","type":"quantitative","legend":null,"scale":{"domain":[0,0.25,0.5],"range":["#0000ff","#ffffff","#ff0000"],"interpolate":"rgb"}}}},{"mark":{"type":"text","fontSize":9},"encoding":{"x":{"field":"n","type":"ordinal","sort":[2,4,8,16,32]},"y":{"field":"r","type":"nominal","sort":["Rand","Agent","Map"]},"text":{"field":"l"},"color":{"condition":{"test":"datum.v<0.14||datum.v>0.34","value":"white"},"value":"black"}}}]},
{"width":136.5,"height":82,"data":{"name":"heat"},"transform":[{"filter":"datum.g=='ost003d'&&datum.m=='Roulette'"}],"layer":[{"mark":{"type":"rect","strokeWidth":0.5},"encoding":{"x":{"field":"n","type":"ordinal","sort":[2,4,8,16,32],"scale":{"padding":0},"title":null,"axis":{"labelAngle":0}},"y":{"field":"r","type":"nominal","sort":["Rand","Agent","Map"],"scale":{"padding":0},"title":null},"color":{"field":"v","type":"quantitative","legend":null,"scale":{"domain":[0,0.25,0.5],"range":["#0000ff","#ffffff","#ff0000"],"interpolate":"rgb"}},"stroke":{"field":"v","type":"quantitative","legend":null,"scale":{"domain":[0,0.25,0.5],"range":["#0000ff","#ffffff","#ff0000"],"interpolate":"rgb"}}}},{"mark":{"type":"text","fontSize":9},"encoding":{"x":{"field":"n","type":"ordinal","sort":[2,4,8,16,32]},"y":{"field":"r","type":"nominal","sort":["Rand","Agent","Map"]},"text":{"field":"l"},"color":{"condition":{"test":"datum.v<0.14||datum.v>0.34","value":"white"},"value":"black"}}}]},
{"width":80,"height":82,"view":{"stroke":null},"title":{"text":["city:","350 agents"],"anchor":"start","align":"center","dx":32,"offset":-7,"fontSize":8.8,"color":"#808080","lineHeight":11,"frame":"group"},"data":{"name":"thumbs"},"transform":[{"filter":"datum.g=='city'"}],"mark":{"type":"rect"},"encoding":{"x":{"field":"a","type":"quantitative","scale":{"domain":[0,21],"range":[0,63],"nice":false,"zero":false},"axis":null},"x2":{"field":"b"},"y":{"field":"r","type":"ordinal","sort":null,"scale":{"domain":[0,1,2,3,4,5,6,7,8,9,10,11,12,13,14,15,16,17,18,19,20],"range":[11,74],"padding":0},"axis":null},"color":{"field":"k","type":"nominal","legend":null,"scale":{"domain":["k","g","l","w"],"range":["#000000","#1c861c","#5aab5a","#e4e4e4"]}}}},
{"width":136.5,"height":82,"resolve":{"scale":{"x":"independent","y":"independent"}},"layer":[{"data":{"name":"heat"},"transform":[{"filter":"datum.g=='city'&&datum.m=='Thompson'"}],"layer":[{"mark":{"type":"rect","strokeWidth":0.5},"encoding":{"x":{"field":"n","type":"ordinal","sort":[2,4,8,16,32],"scale":{"padding":0},"axis":{"title":"Neighborhood Size","labelAngle":0}},"y":{"field":"r","type":"nominal","sort":["Rand","Agent","Map"],"scale":{"padding":0},"axis":{"title":"Destroy Heuristic","titlePadding":7}},"color":{"field":"v","type":"quantitative","legend":null,"scale":{"domain":[0,0.25,0.5],"range":["#0000ff","#ffffff","#ff0000"],"interpolate":"rgb"}},"stroke":{"field":"v","type":"quantitative","legend":null,"scale":{"domain":[0,0.25,0.5],"range":["#0000ff","#ffffff","#ff0000"],"interpolate":"rgb"}}}},{"mark":{"type":"text","fontSize":9},"encoding":{"x":{"field":"n","type":"ordinal","sort":[2,4,8,16,32]},"y":{"field":"r","type":"nominal","sort":["Rand","Agent","Map"]},"text":{"field":"l"},"color":{"condition":{"test":"datum.v<0.14||datum.v>0.34","value":"white"},"value":"black"}}}]},{"data":{"name":"marks"},"transform":[{"filter":"datum.g=='city'"}],"mark":{"type":"rect","fill":"transparent","stroke":"#ff00ff","strokeWidth":2,"strokeDash":[4,2],"clip":false},"encoding":{"x":{"field":"x0","type":"quantitative","scale":{"domain":[0,5],"nice":false,"zero":false},"axis":null},"x2":{"field":"x1"},"y":{"field":"y0","type":"quantitative","scale":{"domain":[0,3],"reverse":true,"nice":false,"zero":false},"axis":null},"y2":{"field":"y1"}}}]},
{"width":136.5,"height":82,"data":{"name":"heat"},"transform":[{"filter":"datum.g=='city'&&datum.m=='UCB1'"}],"layer":[{"mark":{"type":"rect","strokeWidth":0.5},"encoding":{"x":{"field":"n","type":"ordinal","sort":[2,4,8,16,32],"scale":{"padding":0},"axis":{"title":"Neighborhood Size","labelAngle":0}},"y":{"field":"r","type":"nominal","sort":["Rand","Agent","Map"],"scale":{"padding":0},"title":null},"color":{"field":"v","type":"quantitative","legend":null,"scale":{"domain":[0,0.25,0.5],"range":["#0000ff","#ffffff","#ff0000"],"interpolate":"rgb"}},"stroke":{"field":"v","type":"quantitative","legend":null,"scale":{"domain":[0,0.25,0.5],"range":["#0000ff","#ffffff","#ff0000"],"interpolate":"rgb"}}}},{"mark":{"type":"text","fontSize":9},"encoding":{"x":{"field":"n","type":"ordinal","sort":[2,4,8,16,32]},"y":{"field":"r","type":"nominal","sort":["Rand","Agent","Map"]},"text":{"field":"l"},"color":{"condition":{"test":"datum.v<0.14||datum.v>0.34","value":"white"},"value":"black"}}}]},
{"width":136.5,"height":82,"data":{"name":"heat"},"transform":[{"filter":"datum.g=='city'&&datum.m=='Roulette'"}],"layer":[{"mark":{"type":"rect","strokeWidth":0.5},"encoding":{"x":{"field":"n","type":"ordinal","sort":[2,4,8,16,32],"scale":{"padding":0},"axis":{"title":"Neighborhood Size","labelAngle":0}},"y":{"field":"r","type":"nominal","sort":["Rand","Agent","Map"],"scale":{"padding":0},"title":null},"color":{"field":"v","type":"quantitative","legend":null,"scale":{"domain":[0,0.25,0.5],"range":["#0000ff","#ffffff","#ff0000"],"interpolate":"rgb"}},"stroke":{"field":"v","type":"quantitative","legend":null,"scale":{"domain":[0,0.25,0.5],"range":["#0000ff","#ffffff","#ff0000"],"interpolate":"rgb"}}}},{"mark":{"type":"text","fontSize":9},"encoding":{"x":{"field":"n","type":"ordinal","sort":[2,4,8,16,32]},"y":{"field":"r","type":"nominal","sort":["Rand","Agent","Map"]},"text":{"field":"l"},"color":{"condition":{"test":"datum.v<0.14||datum.v>0.34","value":"white"},"value":"black"}}}]}
]}
